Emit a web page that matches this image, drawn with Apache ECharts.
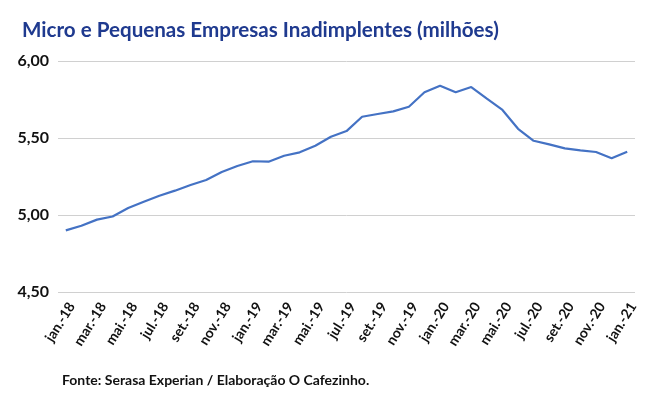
<!DOCTYPE html>
<html>
<head>
<meta charset="utf-8">
<script src="https://cdn.jsdelivr.net/npm/echarts@6/dist/echarts.min.js"></script>
<style>
  html, body { margin: 0; padding: 0; background: #fff; }
  #chart { width: 652px; height: 397px; }
</style>
</head>
<body>
<div id="chart"></div>
<script>
// meses jan-18 .. jan-21
const months = [
  'jan.-18', 'fev.-18', 'mar.-18', 'abr.-18', 'mai.-18', 'jun.-18', 'jul.-18', 'ago.-18', 'set.-18', 'out.-18', 'nov.-18', 'dez.-18',
  'jan.-19', 'fev.-19', 'mar.-19', 'abr.-19', 'mai.-19', 'jun.-19', 'jul.-19', 'ago.-19', 'set.-19', 'out.-19', 'nov.-19', 'dez.-19',
  'jan.-20', 'fev.-20', 'mar.-20', 'abr.-20', 'mai.-20', 'jun.-20', 'jul.-20', 'ago.-20', 'set.-20', 'out.-20', 'nov.-20', 'dez.-20',
  'jan.-21'
]
// milhões de empresas inadimplentes
const inadimplentes = [
  4.90, 4.93, 4.97, 4.99, 5.045, 5.086, 5.125, 5.158, 5.195, 5.227, 5.279, 5.318,
  5.349, 5.346, 5.385, 5.407, 5.45, 5.508, 5.545, 5.638, 5.656, 5.673, 5.703, 5.797,
  5.84, 5.797, 5.831, 5.755, 5.682, 5.56, 5.482, 5.459, 5.433, 5.42, 5.409, 5.368,
  5.411
]
const yTicks = [4.5, 5.0, 5.5, 6.0]

const font = 'Lato, "Open Sans", sans-serif'
const chart = echarts.init(document.getElementById('chart'))
chart.setOption({
  animation: false,
  title: [
    {
      text: 'Micro e Pequenas Empresas Inadimplentes (milhões)',
      left: 17,
      top: 15,
      textStyle: { fontFamily: font, fontSize: 20.6, fontWeight: 'bold', color: '#1f3a8f' }
    },
    {
      text: 'Fonte: Serasa Experian / Elaboração O Cafezinho.',
      left: 57,
      top: 368,
      textStyle: { fontFamily: font, fontSize: 14, fontWeight: 'bold', color: '#111' }
    }
  ],
  grid: { left: 58, right: 17, top: 61, bottom: 105 },
  xAxis: {
    type: 'category',
    data: months,
    boundaryGap: true,
    axisLine: { show: false },
    axisTick: { show: false },
    axisLabel: {
      interval: 1,
      rotate: 58,
      margin: 8,
      verticalAlign: 'top',
      fontFamily: font,
      fontSize: 14,
      fontWeight: 'bold',
      color: '#111'
    }
  },
  yAxis: {
    type: 'value',
    min: yTicks[0],
    max: yTicks[yTicks.length - 1],
    interval: 0.5,
    axisLine: { show: false },
    axisTick: { show: false },
    splitLine: { lineStyle: { color: '#d0d0d0', width: 1 } },
    axisLabel: {
      margin: 9,
      fontFamily: font,
      fontSize: 16,
      fontWeight: 'bold',
      color: '#111',
      formatter: v => v.toFixed(2).replace('.', ',')
    }
  },
  series: [
    {
      type: 'line',
      data: inadimplentes,
      symbol: 'none',
      lineStyle: { color: '#4472c4', width: 2.2 }
    }
  ]
})
</script>
</body>
</html>
